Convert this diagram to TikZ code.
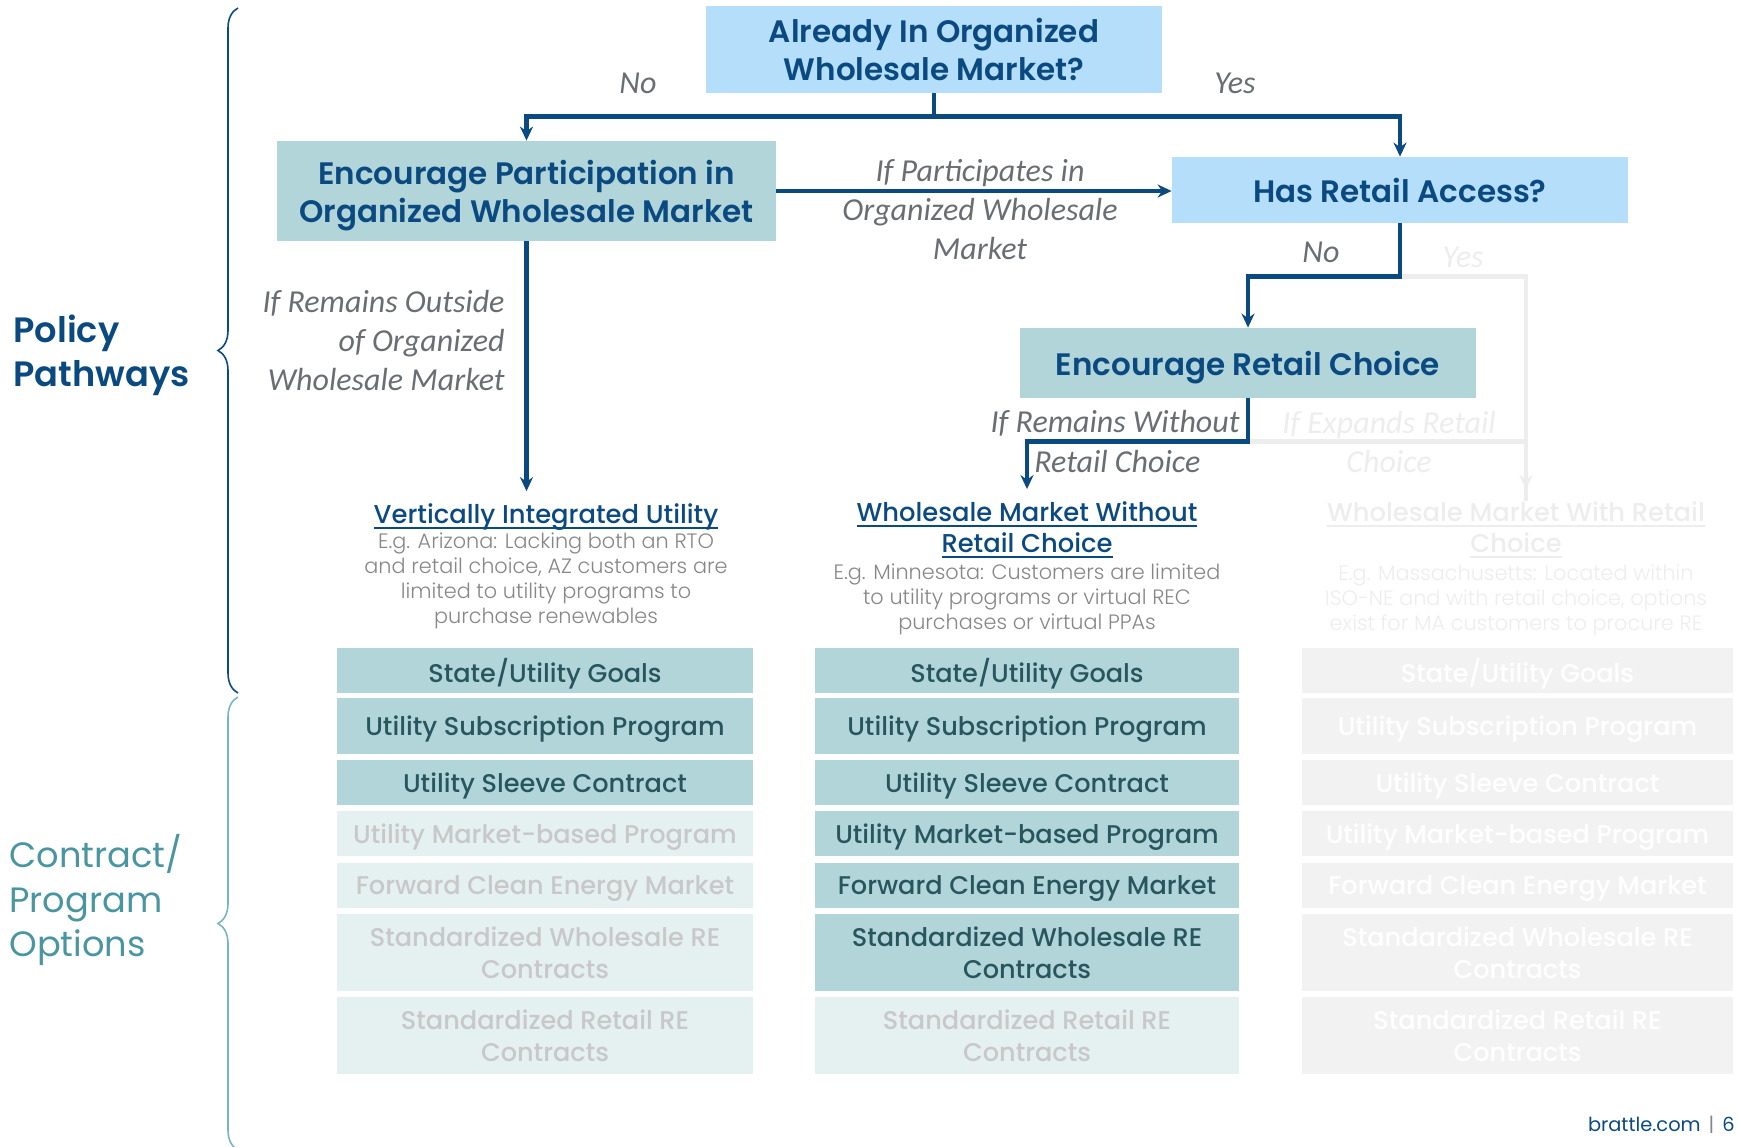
\documentclass[tikz,border=0pt]{standalone}
\usepackage{fontspec}
\setmainfont{Poppins}[BoldFont={Poppins SemiBold}]
\newfontfamily\mediumfont{Poppins Medium}
\newfontfamily\lightfont{Poppins Light}
\newfontfamily\condfont{Carlito}
\usetikzlibrary{arrows.meta}
\usetikzlibrary{decorations.pathreplacing}

\definecolor{navy}{RGB}{11,74,128}
\definecolor{skyblue}{RGB}{180,222,250}
\definecolor{tealbox}{RGB}{178,213,217}
\definecolor{tealtext}{RGB}{40,86,94}
\definecolor{tealhead}{RGB}{74,150,160}
\definecolor{tealbrace}{RGB}{120,182,190}
\definecolor{fadebox}{RGB}{229,240,241}
\definecolor{fadetext}{RGB}{200,200,200}
\definecolor{greybox}{RGB}{242,242,242}
\definecolor{greyline}{RGB}{237,237,237}
\definecolor{labelgrey}{RGB}{105,110,115}
\definecolor{descgrey}{RGB}{135,135,135}

% underline that runs close under the baseline
\newcommand{\headrule}[1]{\setbox0\hbox{#1}\rlap{\rule[-2.6pt]{\wd0}{0.9pt}}\box0}

\tikzset{
	question/.style={fill=skyblue,text=navy,inner sep=0pt,text depth=0pt,align=center,font=\bfseries\fontsize{15.5}{19}\selectfont},
	action/.style={question,fill=tealbox},
	option/.style={fill=tealbox,text=tealtext,inner sep=0pt,text depth=0pt,align=center,font=\mediumfont\fontsize{12.8}{16}\selectfont},
	optfaded/.style={option,fill=fadebox,text=fadetext},
	optoff/.style={option,fill=greybox,text=white},
	head/.style={text=navy,inner sep=0pt,align=center,font=\mediumfont\fontsize{12.9}{15.5}\selectfont},
	desc/.style={text=descgrey,inner sep=0pt,align=center,font=\lightfont\fontsize{10.4}{12.5}\selectfont},
	cond/.style={text=labelgrey,inner sep=0pt,align=center,font=\condfont\itshape\fontsize{16}{19.5}\selectfont},
	flow/.style={->,draw=navy,line width=2.2pt},
	faint/.style={->,draw=greyline,line width=2.2pt},
}

\begin{document}
\begin{tikzpicture}[x=0.5pt,y=-0.5pt,>/.tip={Stealth[length=7pt,width=6.5pt]}]
	\useasboundingbox (0,0) rectangle (1738,1146);

	% side braces
	\draw[navy,line width=0.8pt,decorate,decoration={brace,amplitude=10pt}] (238,693) -- (238,8);
	\draw[tealbrace,line width=0.8pt,decorate,decoration={brace,amplitude=10pt}] (238,1150) -- (238,697);
	\node (policy) [anchor=west,align=left,text=navy,inner sep=0pt,font=\bfseries\fontsize{17.6}{22}\selectfont] at (13,355) {Policy\\Pathways};
	\node (options) [anchor=west,align=left,text=tealhead,inner sep=0pt,font=\fontsize{17.6}{22.2}\selectfont] at (9,900) {Contract/\\Program\\Options};

	% decision and action boxes
	\draw (934,49.5) node (owm) [question,minimum width=228pt,minimum height=43.5pt] {Already In Organized\\Wholesale Market?};
	\draw (526.5,191) node (partic) [action,minimum width=249.5pt,minimum height=50pt] {Encourage Participation in\\Organized Wholesale Market};
	\draw (1400,190) node (access) [question,minimum width=228pt,minimum height=33pt] {Has Retail Access?};
	\draw (1248,363) node (choice) [action,minimum width=228pt,minimum height=35pt] {Encourage Retail Choice};

	% market structures
	\node (viu) [head] at (546,517) {\headrule{Vertically Integrated Utility}};
	\node (wmwo) [head] at (1027,529.5) {\headrule{Wholesale Market Without}\\\headrule{Retail Choice}};
	\node (wmwr) [head,text=greyline] at (1516,529.5) {\headrule{Wholesale Market With Retail}\\\headrule{Choice}};
	\node (viutxt) [desc] at (546,581) {E.g. Arizona: Lacking both an RTO\\and retail choice, AZ customers are\\limited to utility programs to\\purchase renewables};
	\node (wmwotxt) [desc] at (1027,599.5) {E.g. Minnesota: Customers are limited\\to utility programs or virtual REC\\purchases or virtual PPAs};
	\node (wmwrtxt) [desc,text=greyline] at (1516,600) {E.g. Massachusetts: Located within\\ISO-NE and with retail choice, options\\exist for MA customers to procure RE};

	% contract and program options, one row per line
	\foreach \n/\yc/\h/\txt/\sa/\sb in {
		1/670.5/22.5/{State/Utility Goals}/option/option,
		2/726/28/{Utility Subscription Program}/option/option,
		3/782.5/22.5/{Utility Sleeve Contract}/option/option,
		4/833.5/22.5/{Utility Market-based Program}/optfaded/option,
		5/885.5/22.5/{Forward Clean Energy Market}/optfaded/option,
		6/952.5/38.5/{Standardized Wholesale RE\\Contracts}/optfaded/option,
		7/1035.5/38.5/{Standardized Retail RE\\Contracts}/optfaded/optfaded}
	{
		\node (a\n) [\sa,minimum width=208pt,minimum height=\h pt] at (545,\yc) {\txt};
		\node (b\n) [\sb,minimum width=212pt,minimum height=\h pt] at (1027,\yc) {\txt};
		\node (c\n) [optoff,minimum width=215.5pt,minimum height=\h pt] at (1517.5,\yc) {\txt};
	}

	% connectors
	\draw[faint,shorten >=6pt] (access.south) -- ++(0,53) -| ([xshift=5pt]wmwr.north);
	\draw[faint,-] (choice.south) -- ++(0,43) -| ([xshift=5pt]wmwr.north);
	\draw[flow] (owm.south) -- ++(0,23) -| (partic.north);
	\draw[flow] (owm.south) -- ++(0,23) -| (access.north);
	\draw[flow] (partic.east) -- (partic.east -| access.west);
	\draw[flow,shorten >=6pt] (partic.south) -- (partic.south |- viu.north);
	\draw[flow] (access.south) -- ++(0,53) -| (choice.north);
	\draw[flow,shorten >=6pt] (choice.south) -- ++(0,43) -| (wmwo.north);

	% connector labels
	\node (lno) [cond] at (638,83) {No};
	\node (lyes) [cond] at (1235,83) {Yes};
	\node (lpart) [cond] at (980,210) {If Participates in\\Organized Wholesale\\Market};
	\node (lout) [cond,anchor=east,align=right] at (505,340) {If Remains Outside\\of Organized\\Wholesale Market};
	\node (lno2) [cond] at (1321,252) {No};
	\node (lyes2) [cond,text=greyline] at (1463,257) {Yes};
	\node (lwithout) [cond,anchor=east] at (1240,423) {If Remains Without};
	\node (lwithout2) [cond,anchor=west] at (1034,461) {Retail Choice};
	\node (lexpand) [cond,text=greyline] at (1389,442) {If Expands Retail\\Choice};

	\node (site) [anchor=east,inner sep=0pt,font=\fontsize{9.7}{11}\selectfont] at (1735,1125) {\textcolor{navy}{brattle.com}\hspace{4pt}\textcolor{descgrey}{|}\hspace{4pt}\textcolor{navy}{6}};
\end{tikzpicture}
\end{document}
